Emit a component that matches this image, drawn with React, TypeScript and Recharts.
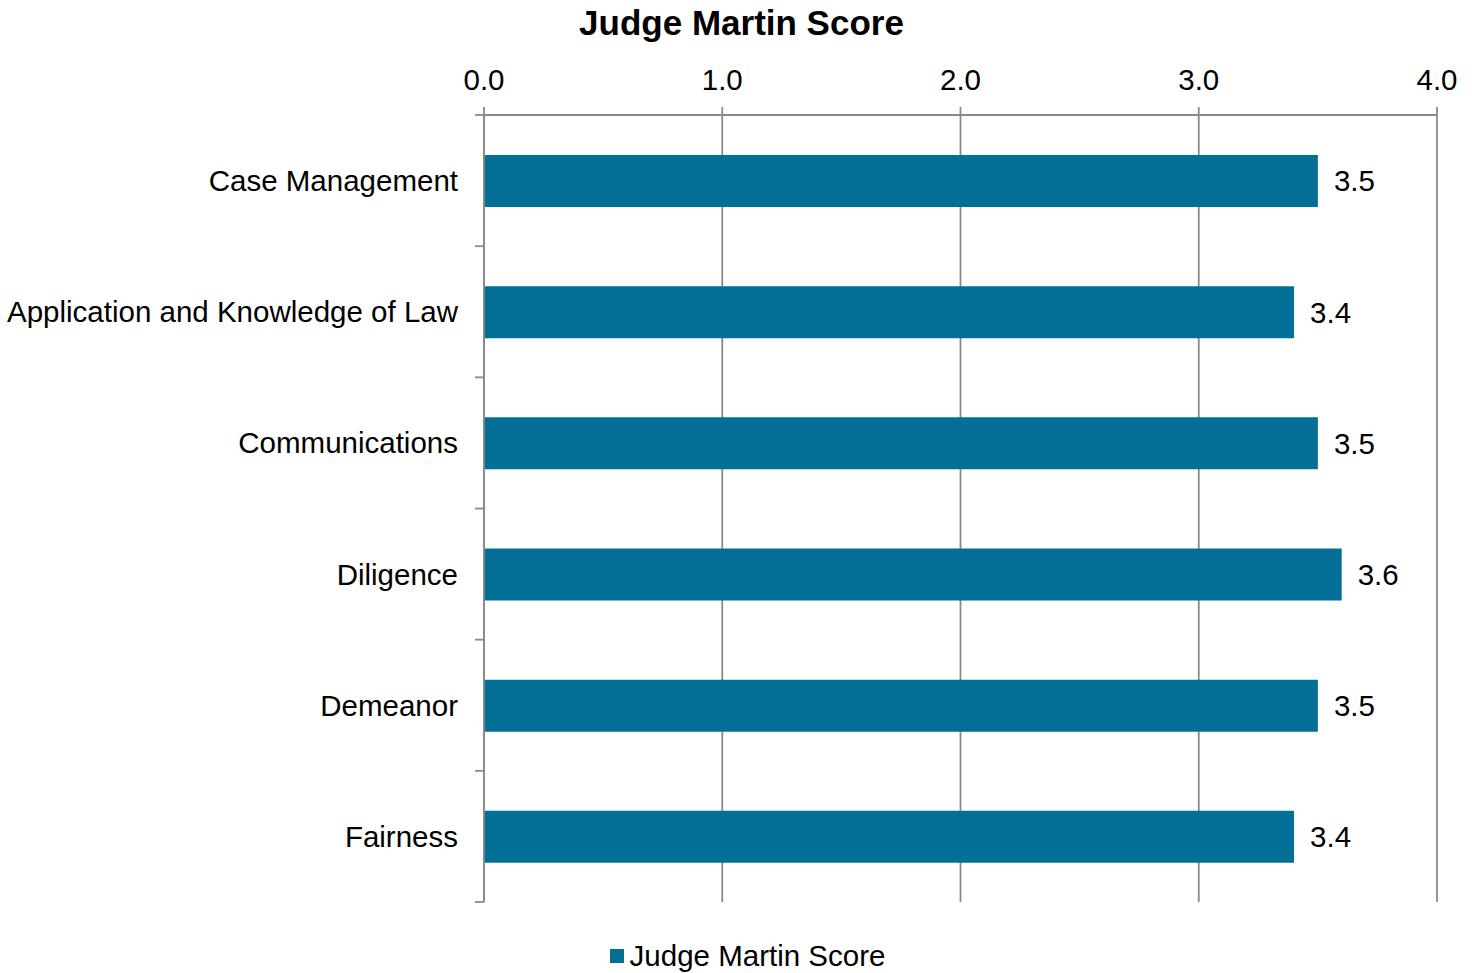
import { Bar, BarChart, CartesianGrid, LabelList, XAxis, YAxis } from "recharts"

const categories = [
    "Case Management",
    "Application and Knowledge of Law",
    "Communications",
    "Diligence",
    "Demeanor",
    "Fairness",
]
const scores = [3.5, 3.4, 3.5, 3.6, 3.5, 3.4]
const xTicks = [0, 1, 2, 3, 4]
const seriesName = "Judge Martin Score"
const title = "Judge Martin Score"

const data = categories.map((name, i) => ({ name, score: scores[i] }))

const BLUE = "#036f96"
const GREY = "#8a8a8a"
const FONT = "'Liberation Sans', Arial, sans-serif"
const TICK_SIZE = 9
const TICK_MARGIN = 17
const TEXT_SIZE = 29.5

// category ticks sit between bars (Excel style), so draw them by hand
function CategoryTick({ x, y, payload, index, visibleTicksCount }: any) {
    const axisX = x + TICK_SIZE + TICK_MARGIN
    const half = payload?.offset ?? 0
    return (
        <g>
            <line x1={axisX - TICK_SIZE} x2={axisX} y1={y - half} y2={y - half} stroke={GREY} strokeWidth={1.8} />
            {index === visibleTicksCount - 1 && (
                <line x1={axisX - TICK_SIZE} x2={axisX} y1={y + half} y2={y + half} stroke={GREY} strokeWidth={1.8} />
            )}
            <text x={x} y={y} textAnchor="end" dominantBaseline="central" fontSize={TEXT_SIZE} fill="#000" fontFamily={FONT}>
                {payload.value}
            </text>
        </g>
    )
}

export default function App() {
    return (
        <div style={{ position: "absolute", left: 0, top: 0, width: 1475, height: 973, background: "#fff", fontFamily: FONT }}>
            <div style={{ position: "absolute", top: 3, left: 4, width: 1475, textAlign: "center", fontSize: 35, fontWeight: "bold" }}>
                {title}
            </div>
            <BarChart
                width={1475}
                height={973}
                data={data}
                layout="vertical"
                margin={{ top: 75, right: 38, bottom: 71, left: 0 }}
            >
                <CartesianGrid horizontal={false} stroke={GREY} strokeWidth={1.8} />
                <XAxis
                    type="number"
                    orientation="top"
                    domain={[0, 4]}
                    ticks={xTicks}
                    height={40}
                    tickFormatter={(v: number) => v.toFixed(1)}
                    tick={{ fontSize: TEXT_SIZE, fill: "#000", fontFamily: FONT }}
                    tickSize={8}
                    tickMargin={17}
                    stroke={GREY}
                    strokeWidth={1.8}
                    interval={0}
                />
                <YAxis
                    type="category"
                    dataKey="name"
                    width={484}
                    tick={<CategoryTick />}
                    tickLine={false}
                    tickSize={TICK_SIZE}
                    tickMargin={TICK_MARGIN}
                    stroke={GREY}
                    strokeWidth={1.8}
                    interval={0}
                />
                <Bar dataKey="score" name={seriesName} fill={BLUE} barSize={52} isAnimationActive={false}>
                    <LabelList
                        dataKey="score"
                        position="right"
                        offset={16}
                        formatter={(v: any) => Number(v).toFixed(1)}
                        style={{ fontSize: TEXT_SIZE, fill: "#000", fontFamily: FONT }}
                    />
                </Bar>
            </BarChart>
            <div style={{ position: "absolute", top: 939, left: 10, width: 1475, display: "flex", justifyContent: "center", alignItems: "center", fontSize: TEXT_SIZE }}>
                <span style={{ display: "inline-block", width: 14, height: 14, background: BLUE, marginRight: 6 }} />
                <span>{seriesName}</span>
            </div>
        </div>
    )
}
